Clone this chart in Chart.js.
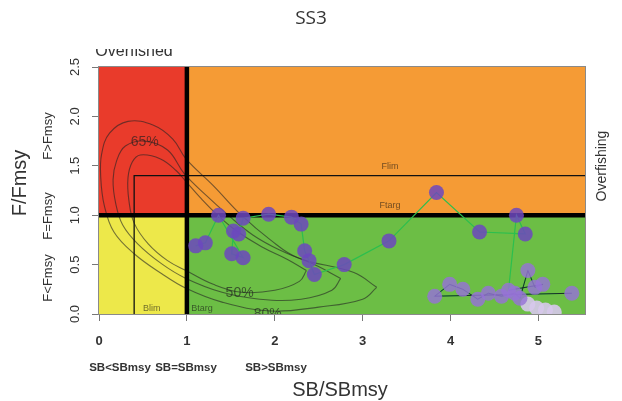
<!DOCTYPE html>
<html>
<head>
<meta charset="utf-8">
<title>SS3</title>
<script src="https://cdn.jsdelivr.net/npm/chart.js@4.4.1/dist/chart.umd.min.js"></script>
<style>
  body { margin: 0; background: #fff; }
  #wrap { width: 622px; height: 401px; }
</style>
</head>
<body>
<div id="wrap"><canvas id="kobe" width="622" height="401"></canvas></div>
<script>
// Axis ranges and ticks
const xMax = 5.53;
const yMax = 2.5;
const xTicks = [0, 1, 2, 3, 4, 5];
const yTicks = [0, 0.5, 1.0, 1.5, 2.0, 2.5];
const yTickLabels = ['0.0', '0.5', '1.0', '1.5', '2.0', '2.5'];

// Reference points
const bmsy = 1.0;
const fmsy = 1.0;
const blim = 0.4;
const flim = 1.4;

// Stock trajectory (SB/SBmsy, F/Fmsy)
const trajX = [5.38, 3.82, 3.99, 4.14, 4.31, 4.43, 4.58, 4.73, 4.79, 4.88, 4.96, 5.05, 4.66,
               4.75, 4.85, 4.33, 3.84, 3.30, 2.79, 2.45, 2.39, 2.34, 2.30, 2.19, 1.93,
               1.64, 1.59, 1.53, 1.51, 1.64, 1.36, 1.21, 1.10];
const trajY = [0.21, 0.18, 0.30, 0.25, 0.15, 0.21, 0.18, 0.21, 0.16, 0.44, 0.27, 0.30, 0.24,
               1.00, 0.81, 0.83, 1.23, 0.74, 0.50, 0.40, 0.54, 0.64, 0.91, 0.98, 1.01,
               0.97, 0.81, 0.84, 0.61, 0.57, 1.00, 0.72, 0.69];
const clusterCount = 13; // early years, drawn lighter

// Uncertainty cloud of the last years
const cloudX = [4.88, 4.98, 5.08, 5.18];
const cloudY = [0.10, 0.06, 0.04, 0.02];

// Probability contours (closed loops, start and end at the right tip)
const c80X = [3.16, 2.90, 2.26, 1.95, 1.62, 1.30, 0.99, 0.84, 0.62, 0.33, 0.12, 0.03, 0.02, 0.06, 0.17, 0.40, 0.71, 0.99, 1.40, 1.95, 2.50, 3.00, 3.16];
const c80Y = [0.27, 0.42, 0.57, 0.75, 1.00, 1.30, 1.57, 1.77, 1.91, 1.95, 1.83, 1.62, 1.38, 1.10, 0.83, 0.61, 0.41, 0.26, 0.12, 0.03, 0.07, 0.15, 0.27];
const c65X = [2.75, 2.45, 2.05, 1.75, 1.47, 1.22, 0.97, 0.78, 0.52, 0.30, 0.20, 0.16, 0.19, 0.27, 0.44, 0.71, 0.99, 1.40, 1.83, 2.30, 2.65, 2.75];
const c65Y = [0.36, 0.50, 0.65, 0.80, 1.00, 1.20, 1.42, 1.66, 1.75, 1.70, 1.55, 1.36, 1.12, 0.90, 0.71, 0.51, 0.36, 0.22, 0.15, 0.15, 0.24, 0.36];
const c50X = [2.36, 2.15, 1.85, 1.55, 1.35, 1.15, 0.99, 0.88, 0.70, 0.47, 0.38, 0.33, 0.34, 0.40, 0.56, 0.78, 0.99, 1.30, 1.62, 2.00, 2.28, 2.36];
const c50Y = [0.44, 0.55, 0.68, 0.85, 1.00, 1.18, 1.34, 1.45, 1.57, 1.61, 1.54, 1.38, 1.15, 0.92, 0.71, 0.54, 0.44, 0.30, 0.22, 0.24, 0.33, 0.44];

const toXY = (xs, ys) => xs.map((v, i) => ({ x: v, y: ys[i] }));

const contourColor = 'rgba(35, 35, 35, 0.6)';
const pointColors = trajX.map((v, i) => i < clusterCount ? 'rgba(150, 115, 215, 0.82)' : 'rgba(108, 72, 190, 0.85)');

const contour = (xs, ys) => ({
    data: toXY(xs, ys),
    showLine: true,
    borderColor: contourColor,
    borderWidth: 1.1,
    pointRadius: 0,
    tension: 0.4,
    fill: false,
    order: 6
});

// Zones, labels and outside text
const kobePlugin = {
    id: 'kobe',
    beforeDatasetsDraw(chart) {
        const { ctx, chartArea: a, scales: { x, y } } = chart;
        const px = x.getPixelForValue(bmsy);
        const py = y.getPixelForValue(fmsy);
        ctx.save();
        ctx.fillStyle = '#E93B2B';
        ctx.fillRect(a.left, a.top, px - a.left, py - a.top);
        ctx.fillStyle = '#F59B35';
        ctx.fillRect(px, a.top, a.right - px, py - a.top);
        ctx.fillStyle = '#EDE84A';
        ctx.fillRect(a.left, py, px - a.left, a.bottom - py);
        ctx.fillStyle = '#6CBE45';
        ctx.fillRect(px, py, a.right - px, a.bottom - py);
        ctx.restore();
    },
    afterDatasetsDraw(chart) {
        const { ctx, chartArea: a, scales: { x, y } } = chart;
        ctx.save();
        ctx.beginPath();
        ctx.rect(a.left, a.top, a.right - a.left, a.bottom - a.top);
        ctx.clip();
        ctx.textAlign = 'center';
        ctx.textBaseline = 'middle';
        ctx.fillStyle = 'rgba(30, 30, 30, 0.65)';
        ctx.font = '14px "Liberation Sans", Arial, sans-serif';
        ctx.fillText('65%', x.getPixelForValue(0.52), y.getPixelForValue(1.74));
        ctx.fillText('50%', x.getPixelForValue(1.60), y.getPixelForValue(0.21));
        ctx.fillText('80%', x.getPixelForValue(1.92), y.getPixelForValue(0.0));
        ctx.font = '9px "Liberation Sans", Arial, sans-serif';
        ctx.fillStyle = 'rgba(20, 20, 20, 0.6)';
        ctx.fillText('Flim', x.getPixelForValue(3.31), y.getPixelForValue(1.49));
        ctx.fillText('Ftarg', x.getPixelForValue(3.31), y.getPixelForValue(1.10));
        ctx.fillText('Blim', x.getPixelForValue(0.6), y.getPixelForValue(0.06));
        ctx.textAlign = 'left';
        ctx.fillText('Btarg', x.getPixelForValue(1.05), y.getPixelForValue(0.06));
        ctx.restore();

        // plot box
        ctx.save();
        ctx.strokeStyle = '#8a8a8a';
        ctx.lineWidth = 1;
        ctx.strokeRect(a.left - 0.5, a.top - 0.5, a.right - a.left + 1, a.bottom - a.top + 1);
        ctx.restore();
    },
    afterDraw(chart) {
        const { ctx, scales: { y } } = chart;
        const font = '"Liberation Sans", Arial, sans-serif';
        ctx.save();
        ctx.fillStyle = '#333';
        ctx.textAlign = 'center';
        ctx.textBaseline = 'middle';

        // title
        ctx.font = '19px "Open Sans", sans-serif';
        ctx.fillText('SS3', 311, 19);

        // partly hidden label above the plot
        ctx.save();
        ctx.beginPath();
        ctx.rect(0, 49, 622, 17);
        ctx.clip();
        ctx.font = '16px ' + font;
        ctx.textBaseline = 'alphabetic';
        ctx.fillText('Overfished', 134, 56);
        ctx.restore();

        // x labels
        ctx.font = 'bold 11.5px ' + font;
        ctx.fillText('SB<SBmsy', 120, 368);
        ctx.fillText('SB=SBmsy', 186, 368);
        ctx.fillText('SB>SBmsy', 276, 368);
        ctx.font = '20px ' + font;
        ctx.fillText('SB/SBmsy', 340, 390);

        // rotated y labels
        const rot = (text, cx, cy, f) => {
            ctx.save();
            ctx.translate(cx, cy);
            ctx.rotate(-Math.PI / 2);
            ctx.font = f;
            ctx.fillText(text, 0, 0);
            ctx.restore();
        };
        yTicks.forEach((v, i) => rot(yTickLabels[i], 75, y.getPixelForValue(v), '13px ' + font));
        rot('F>Fmsy', 48, 136, '13px ' + font);
        rot('F=Fmsy', 48, 216, '13px ' + font);
        rot('F<Fmsy', 48, 278, '13px ' + font);
        rot('F/Fmsy', 20, 183, '20px ' + font);
        rot('Overfishing', 602, 166, '14px ' + font);
        ctx.restore();
    }
};

new Chart(document.getElementById('kobe'), {
    type: 'scatter',
    data: {
        datasets: [
            {
                data: toXY(trajX, trajY),
                pointRadius: 7.5,
                pointHoverRadius: 7.5,
                backgroundColor: pointColors,
                borderWidth: 0,
                order: 0
            },
            {
                data: toXY(cloudX, cloudY),
                pointRadius: 7.5,
                backgroundColor: 'rgba(215, 200, 235, 0.9)',
                borderWidth: 0,
                order: 1
            },
            {
                // early-year arrows inside the cluster
                data: toXY(trajX.slice(0, clusterCount), trajY.slice(0, clusterCount)),
                showLine: true,
                borderColor: 'rgba(20, 10, 30, 0.8)',
                borderWidth: 1,
                pointRadius: 0,
                order: 2
            },
            {
                data: toXY(trajX, trajY),
                showLine: true,
                borderColor: '#2BBF4E',
                borderWidth: 1.2,
                pointRadius: 0,
                order: 3
            },
            {
                data: [{ x: bmsy, y: 0 }, { x: bmsy, y: yMax }],
                showLine: true,
                borderColor: '#000',
                borderWidth: 4.5,
                pointRadius: 0,
                order: 4
            },
            {
                data: [{ x: 0, y: fmsy }, { x: xMax, y: fmsy }],
                showLine: true,
                borderColor: '#000',
                borderWidth: 4.5,
                pointRadius: 0,
                order: 4
            },
            {
                data: [{ x: blim, y: 0 }, { x: blim, y: flim }, { x: xMax, y: flim }],
                showLine: true,
                borderColor: '#111',
                borderWidth: 1.3,
                pointRadius: 0,
                order: 5
            },
            contour(c80X, c80Y),
            contour(c65X, c65Y),
            contour(c50X, c50Y)
        ]
    },
    options: {
        responsive: false,
        animation: false,
        devicePixelRatio: 1,
        layout: { padding: { left: 0, top: 67, right: 37, bottom: 0 } },
        plugins: {
            legend: { display: false },
            tooltip: { enabled: false }
        },
        scales: {
            x: {
                type: 'linear',
                min: 0,
                max: xMax,
                afterBuildTicks: s => { s.ticks = xTicks.map(v => ({ value: v })); },
                afterFit: s => { s.height = 87; },
                border: { display: false },
                grid: { drawOnChartArea: false, tickLength: 7, color: '#777' },
                ticks: {
                    color: '#333',
                    padding: 13,
                    maxRotation: 0,
                    font: { family: '"Liberation Sans", Arial, sans-serif', size: 13, weight: 'bold' }
                }
            },
            y: {
                type: 'linear',
                min: 0,
                max: yMax,
                afterBuildTicks: s => { s.ticks = yTicks.map(v => ({ value: v })); },
                afterFit: s => { s.width = 99; },
                border: { display: false },
                grid: { drawOnChartArea: false, tickLength: 7, color: '#777' },
                ticks: { display: false }
            }
        }
    },
    plugins: [kobePlugin]
});
</script>
</body>
</html>
